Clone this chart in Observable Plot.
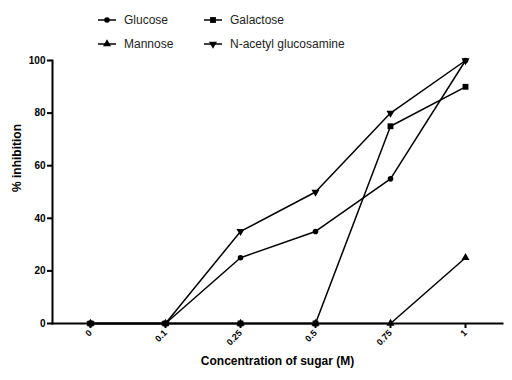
<!DOCTYPE html>
<html><head><meta charset="utf-8">
<script src="https://cdn.jsdelivr.net/npm/d3@7"></script>
<script src="https://cdn.jsdelivr.net/npm/@observablehq/plot@0.6"></script>
<style>
body{margin:0;background:#fff;font-family:"Liberation Sans",Arial,sans-serif;}
#wrap{position:relative;width:512px;height:380px;}
#legend{position:absolute;left:0;top:0;}
</style></head><body><div id="wrap"></div>
<script>
const concentrations = ["0","0.1","0.25","0.5","0.75","1"];
const series = ["Glucose","Galactose","Mannose","N-acetyl glucosamine"];
const glucose = [0,0,25,35,55,100];
const galactose = [0,0,0,0,75,90];
const mannose = [0,0,0,0,0,25];
const nag = [0,0,35,50,80,100];
const yTicks = [0,20,40,60,80,100];

const triangleDown = {
  draw(ctx, size) {
    const y = -Math.sqrt(size / (Math.sqrt(3) * 3));
    ctx.moveTo(0, -y * 2);
    ctx.lineTo(-Math.sqrt(3) * y, y);
    ctx.lineTo(Math.sqrt(3) * y, y);
    ctx.closePath();
  }
};
const valuesBy = {"Glucose": glucose, "Galactose": galactose, "Mannose": mannose, "N-acetyl glucosamine": nag};
const symbolBy = {"Glucose": "circle", "Galactose": "square", "Mannose": "triangle", "N-acetyl glucosamine": triangleDown};
const rBy = {"Glucose": 2.8, "Galactose": 3.3, "Mannose": 3.0, "N-acetyl glucosamine": 3.0};
const rows = series.flatMap(s => concentrations.map((c, i) => ({series: s, c, v: valuesBy[s][i]})));

const drawOrder = ["Glucose","N-acetyl glucosamine","Mannose","Galactose"];
const dotMarks = drawOrder.map(s => Plot.dot(rows.filter(d => d.series === s), {
  x: "c", y: "v", symbol: symbolBy[s], r: rBy[s], fill: "black", stroke: "none"
}));

const chart = Plot.plot({
  width: 512, height: 380,
  marginLeft: 52, marginRight: 10, marginTop: 60, marginBottom: 57,
  style: {fontFamily: "'Liberation Sans', Arial, sans-serif", background: "white", color: "black"},
  x: {type: "point", domain: concentrations, padding: 0.5},
  y: {domain: [0, 100]},
  marks: [
    Plot.line(rows, {x: "c", y: "v", z: "series", stroke: "black", strokeWidth: 1.5}),
    ...dotMarks,
    Plot.frame({anchor: "left", strokeWidth: 2}),
    Plot.frame({anchor: "bottom", strokeWidth: 2}),
    Plot.axisY({ticks: yTicks, tickSize: 5, tickPadding: 2, fontSize: 10, fontWeight: "bold", strokeWidth: 2, label: null}),
    Plot.axisX({tickRotate: -45, tickSize: 5, tickPadding: 3, fontSize: 9, fontWeight: "bold", strokeWidth: 2, label: null}),
    Plot.text(["% inhibition"], {text: d => d, frameAnchor: "left", dx: -35, rotate: -90, fontSize: 12, fontWeight: "bold"}),
    Plot.text(["Concentration of sugar (M)"], {text: d => d, frameAnchor: "bottom", lineAnchor: "middle", dy: 38, fontSize: 12, fontWeight: "bold"})
  ]
});
const wrap = document.getElementById("wrap");
wrap.appendChild(chart);

// legend
const legend = d3.create("svg").attr("id", "legend").attr("width", 512).attr("height", 56)
  .style("font-family", "'Liberation Sans', Arial, sans-serif");
const pos = [[100, 20], [206, 20], [100, 44], [206, 44]];
series.forEach((s, i) => {
  const [lx, ly] = pos[i];
  const g = legend.append("g").attr("transform", `translate(${lx},${ly})`);
  g.append("line").attr("x1", -2).attr("x2", 16).attr("y1", 0).attr("y2", 0).attr("stroke", "black").attr("stroke-width", 1.5);
  const sym = symbolBy[s] === triangleDown ? triangleDown :
    ({circle: d3.symbolCircle, square: d3.symbolSquare, triangle: d3.symbolTriangle})[symbolBy[s]];
  const r = rBy[s];
  g.append("path").attr("transform", "translate(7,0)").attr("d", d3.symbol(sym, Math.PI * r * r)()).attr("fill", "black");
  g.append("text").attr("x", 24).attr("y", 0).attr("dy", "0.35em").attr("font-size", 12).attr("fill", "#222").text(s);
});
wrap.appendChild(legend.node());
</script></body></html>
